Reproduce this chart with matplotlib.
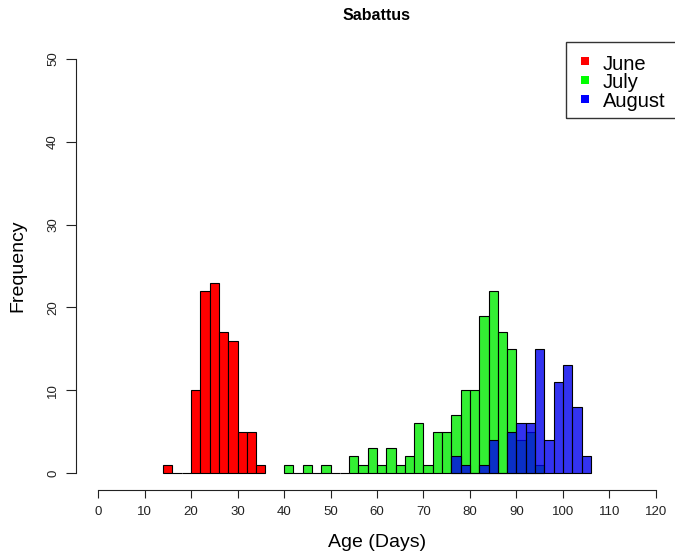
import matplotlib
matplotlib.use("Agg")
import matplotlib.pyplot as plt
from matplotlib.patches import Rectangle
import numpy as np

plt.rcParams['font.family'] = ['Liberation Sans', 'DejaVu Sans']

# ---- data (bin left edges, bin width 2 days) ----
june_edges = [14, 16, 18, 20, 22, 24, 26, 28, 30, 32, 34]
june_counts = [1, 0, 0, 10, 22, 23, 17, 16, 5, 5, 1]

july_edges = [40, 42, 44, 46, 48, 50, 52, 54, 56, 58, 60, 62, 64, 66,
              68, 70, 72, 74, 76, 78, 80, 82, 84, 86, 88, 90, 92, 94]
july_counts = [1, 0, 1, 0, 1, 0, 0, 2, 1, 3, 1, 3, 1, 2,
               6, 1, 5, 5, 7, 10, 10, 19, 22, 17, 15, 4, 5, 1]

aug_edges = [76, 78, 80, 82, 84, 86, 88, 90, 92, 94, 96, 98, 100, 102, 104]
aug_counts = [2, 1, 0, 1, 4, 0, 5, 6, 6, 15, 4, 11, 13, 8, 2]

bin_width = 2
x_ticks = [0, 10, 20, 30, 40, 50, 60, 70, 80, 90, 100, 110, 120]
y_ticks = [0, 10, 20, 30, 40, 50]
legend_labels = ["June", "July", "August"]

red = "#ff0000"
green = (0.0, 0.92, 0.0, 0.8)
blue = (0.0, 0.0, 0.93, 0.8)

W, H = 675, 558
fig = plt.figure(figsize=(W / 100, H / 100), dpi=100)
left, right, top, bottom = 75.7, 678.3, 42.4, 489.6
ax = fig.add_axes([left / W, 1 - bottom / H, (right - left) / W, (bottom - top) / H])
ax.set_xlim(-4.8, 124.8)
ax.set_ylim(-2, 52)

kw = dict(width=bin_width, align='edge', edgecolor='black', linewidth=0.8)
ax.bar(june_edges, june_counts, color=red, **kw)
ax.bar(july_edges, july_counts, color=green, **kw)
ax.bar(aug_edges, aug_counts, color=blue, **kw)

for s in ['top', 'right']:
    ax.spines[s].set_visible(False)
ax.spines['left'].set_bounds(0, 50)
ax.spines['bottom'].set_bounds(0, 120)
for s in ['left', 'bottom']:
    ax.spines[s].set_linewidth(0.8)
    ax.spines[s].set_color('#222222')

ax.set_xticks(x_ticks)
ax.set_xticklabels([str(t) for t in x_ticks], fontsize=9.5, color='#222222')
ax.set_yticks(y_ticks)
ax.set_yticklabels([str(t) for t in y_ticks], fontsize=9.5, color='#222222',
                   rotation=90, va='center')
ax.tick_params(axis='x', length=6, width=0.8, pad=6, color='#222222')
ax.tick_params(axis='y', length=7, width=0.8, pad=5, color='#222222')

ax.set_xlabel("Age (Days)", fontsize=14, labelpad=11)
ax.set_ylabel("Frequency", fontsize=14)
ax.yaxis.set_label_coords((26 - left) / (right - left), 0.5)
ax.set_title("Sabattus", fontsize=11.5, fontweight='bold', pad=16)

# ---- legend (drawn manually, R style) ----
def fx(px):
    return px / W

def fy(py):
    return 1 - py / H

fig.add_artist(Rectangle((fx(566), fy(118)), fx(120), fy(42) - fy(118),
                         transform=fig.transFigure, fill=False,
                         edgecolor='#333333', linewidth=1.0))
leg_colors = [red, (0, 1, 0), (0, 0, 1)]
for i, (lab, c) in enumerate(zip(legend_labels, leg_colors)):
    yc = 61 + i * 18.8
    fig.add_artist(Rectangle((fx(581), fy(yc + 4)), fx(8), fy(yc - 4) - fy(yc + 4),
                             transform=fig.transFigure, color=c, linewidth=0))
    fig.text(fx(603), fy(yc + 3), lab, fontsize=14.5, va='center', ha='left')

fig.savefig("out.png", dpi=100)
